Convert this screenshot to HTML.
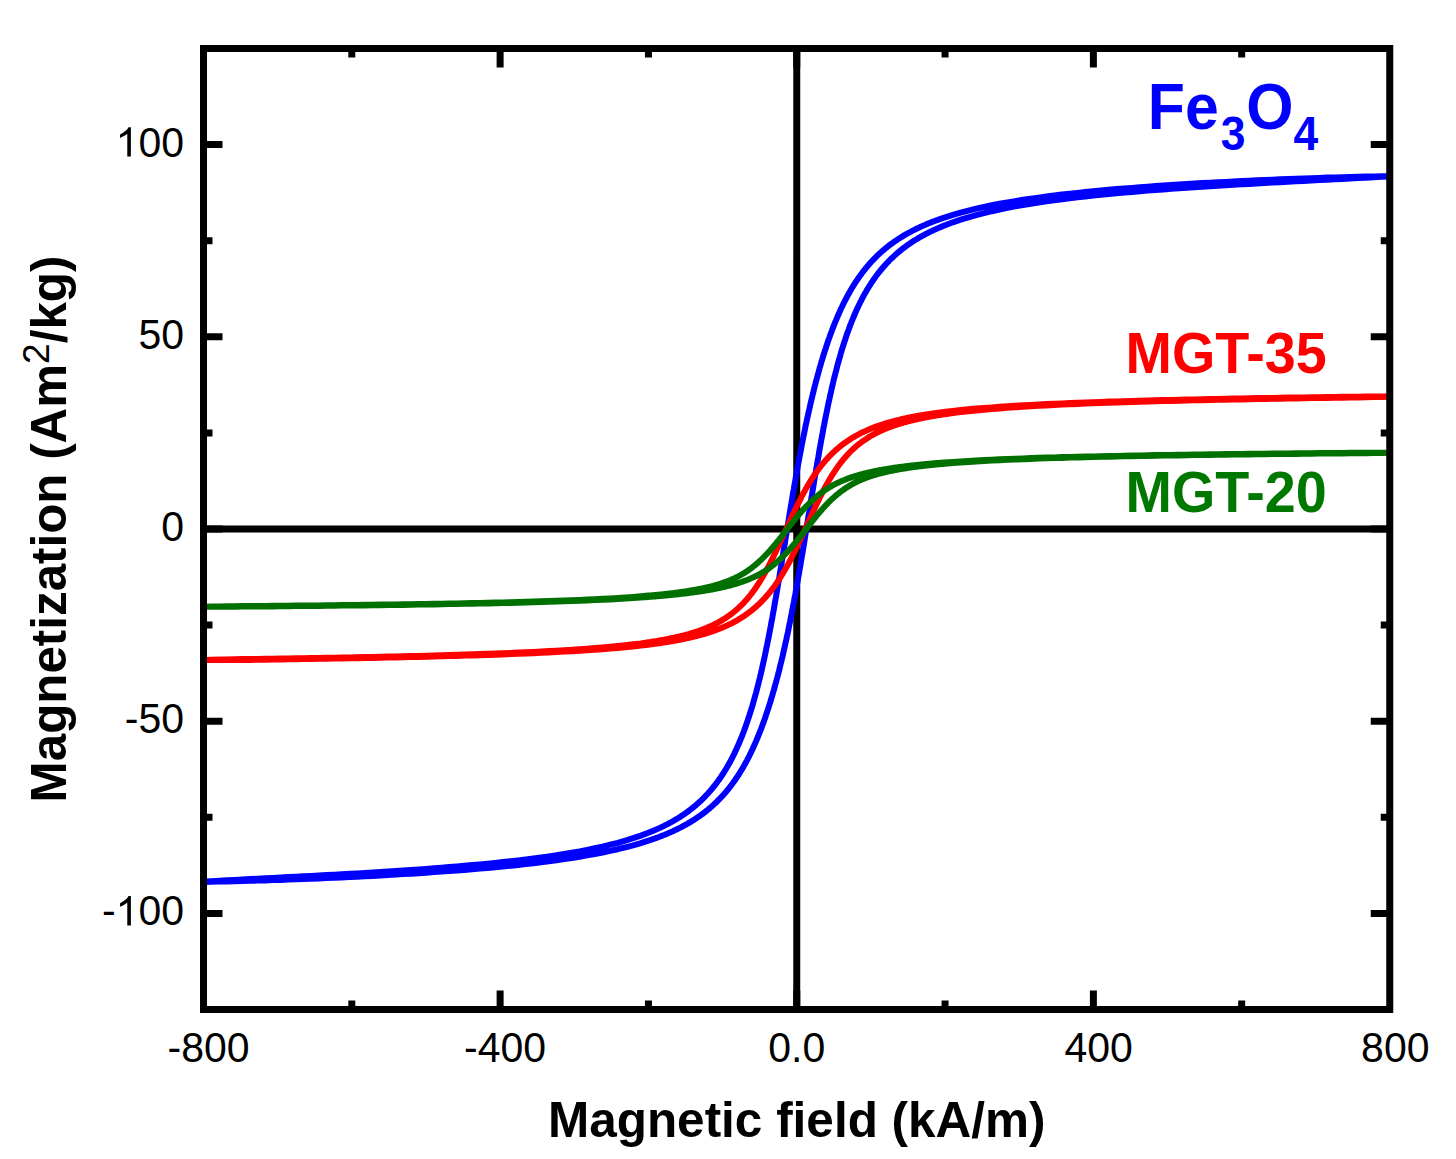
<!DOCTYPE html>
<html><head><meta charset="utf-8"><style>html,body{margin:0;padding:0;background:#fff;width:1456px;height:1159px;overflow:hidden}svg{display:block}</style></head>
<body><svg width="1456" height="1159" viewBox="0 0 1456 1159">
<rect width="1456" height="1159" fill="#fff"/>
<g clip-path="url(#cp)">
<path d="M203.5,529 H1389.75 M796.75,48.5 V1009.5" stroke="#000" stroke-width="7" fill="none"/>
<path d="M188.7,882.1 L196.3,881.9 L204.0,881.6 L211.7,881.2 L219.3,880.7 L227.0,880.3 L234.6,879.9 L242.3,879.5 L250.0,879.1 L257.6,878.7 L265.3,878.3 L273.0,877.9 L280.6,877.5 L288.3,877.1 L295.9,876.7 L303.6,876.3 L311.3,875.9 L318.9,875.5 L326.6,875.1 L334.3,874.7 L341.9,874.2 L349.6,873.8 L357.3,873.4 L364.9,872.9 L372.6,872.4 L380.2,872.0 L387.9,871.5 L395.6,871.0 L403.2,870.5 L410.9,870.0 L418.6,869.4 L426.2,868.9 L433.9,868.3 L441.5,867.7 L449.2,867.1 L456.9,866.5 L464.5,865.8 L472.2,865.1 L479.9,864.4 L487.5,863.7 L495.2,862.9 L502.8,862.1 L510.5,861.3 L518.2,860.4 L525.8,859.5 L533.5,858.5 L541.2,857.5 L548.8,856.4 L556.5,855.3 L564.1,854.0 L571.8,852.7 L579.5,851.4 L587.1,849.9 L594.8,848.3 L602.5,846.6 L610.1,844.7 L617.8,842.8 L625.4,840.6 L633.1,838.2 L640.8,835.6 L648.4,832.7 L649.2,832.4 L649.9,832.1 L650.7,831.8 L651.4,831.5 L652.1,831.2 L652.9,830.9 L653.6,830.6 L654.4,830.3 L655.1,830.0 L655.9,829.7 L656.6,829.3 L657.3,829.0 L658.1,828.7 L658.8,828.3 L659.6,828.0 L660.3,827.7 L661.0,827.3 L661.8,827.0 L662.5,826.6 L663.3,826.2 L664.0,825.9 L664.8,825.5 L665.5,825.1 L666.2,824.8 L667.0,824.4 L667.7,824.0 L668.5,823.6 L669.2,823.2 L669.9,822.8 L670.7,822.4 L671.4,822.0 L672.2,821.6 L672.9,821.2 L673.7,820.7 L674.4,820.3 L675.1,819.9 L675.9,819.4 L676.6,819.0 L677.4,818.6 L678.1,818.1 L678.8,817.6 L679.6,817.2 L680.3,816.7 L681.1,816.2 L681.8,815.7 L682.5,815.2 L683.3,814.7 L684.0,814.2 L684.8,813.7 L685.5,813.2 L686.3,812.7 L687.0,812.1 L687.7,811.6 L688.5,811.1 L689.2,810.5 L690.0,809.9 L690.7,809.4 L691.4,808.8 L692.2,808.2 L692.9,807.6 L693.7,807.0 L694.4,806.4 L695.2,805.8 L695.9,805.1 L696.6,804.5 L697.4,803.8 L698.1,803.2 L698.9,802.5 L699.6,801.8 L700.3,801.2 L701.1,800.5 L701.8,799.7 L702.6,799.0 L703.3,798.3 L704.1,797.5 L704.8,796.8 L705.5,796.0 L706.3,795.2 L707.0,794.5 L707.8,793.7 L708.5,792.8 L709.2,792.0 L710.0,791.2 L710.7,790.3 L711.5,789.4 L712.2,788.5 L713.0,787.6 L713.7,786.7 L714.4,785.8 L715.2,784.8 L715.9,783.9 L716.7,782.9 L717.4,781.9 L718.1,780.9 L718.9,779.9 L719.6,778.8 L720.4,777.7 L721.1,776.7 L721.9,775.5 L722.6,774.4 L723.3,773.3 L724.1,772.1 L724.8,770.9 L725.6,769.7 L726.3,768.5 L727.0,767.2 L727.8,765.9 L728.5,764.6 L729.3,763.3 L730.0,762.0 L730.8,760.6 L731.5,759.2 L732.2,757.7 L733.0,756.3 L733.7,754.8 L734.5,753.3 L735.2,751.7 L735.9,750.2 L736.7,748.5 L737.4,746.9 L738.2,745.2 L738.9,743.5 L739.6,741.8 L740.4,740.0 L741.1,738.2 L741.9,736.4 L742.6,734.5 L743.4,732.5 L744.1,730.6 L744.8,728.6 L745.6,726.5 L746.3,724.4 L747.1,722.3 L747.8,720.1 L748.5,717.9 L749.3,715.7 L750.0,713.3 L750.8,711.0 L751.5,708.6 L752.3,706.1 L753.0,703.6 L753.7,701.0 L754.5,698.4 L755.2,695.7 L756.0,693.0 L756.7,690.2 L757.4,687.4 L758.2,684.5 L758.9,681.5 L759.7,678.5 L760.4,675.4 L761.2,672.3 L761.9,669.1 L762.6,665.8 L763.4,662.5 L764.1,659.1 L764.9,655.6 L765.6,652.1 L766.3,648.5 L767.1,644.9 L767.8,641.2 L768.6,637.4 L769.3,633.6 L770.1,629.7 L770.8,625.8 L771.5,621.8 L772.3,617.8 L773.0,613.7 L773.8,609.5 L774.5,605.3 L775.2,601.0 L776.0,596.7 L776.7,592.4 L777.5,588.0 L778.2,583.6 L779.0,579.2 L779.7,574.7 L780.4,570.2 L781.2,565.7 L781.9,561.2 L782.7,556.6 L783.4,552.0 L784.1,547.5 L784.9,542.9 L785.6,538.3 L786.4,533.8 L787.1,529.2 L787.9,524.6 L788.6,520.1 L789.3,515.6 L790.1,511.1 L790.8,506.6 L791.6,502.2 L792.3,497.8 L793.0,493.4 L793.8,489.1 L794.5,484.8 L795.3,480.5 L796.0,476.3 L796.8,472.1 L797.5,468.0 L798.2,463.9 L799.0,459.9 L799.7,455.9 L800.5,452.0 L801.2,448.1 L801.9,444.3 L802.7,440.5 L803.4,436.8 L804.2,433.1 L804.9,429.5 L805.6,425.9 L806.4,422.4 L807.1,418.9 L807.9,415.5 L808.6,412.2 L809.4,408.9 L810.1,405.6 L810.8,402.4 L811.6,399.3 L812.3,396.2 L813.1,393.1 L813.8,390.1 L814.5,387.2 L815.3,384.3 L816.0,381.4 L816.8,378.6 L817.5,375.9 L818.3,373.1 L819.0,370.5 L819.7,367.8 L820.5,365.3 L821.2,362.7 L822.0,360.2 L822.7,357.8 L823.4,355.4 L824.2,353.0 L824.9,350.7 L825.7,348.4 L826.4,346.1 L827.2,343.9 L827.9,341.7 L828.6,339.6 L829.4,337.5 L830.1,335.4 L830.9,333.4 L831.6,331.4 L832.3,329.4 L833.1,327.5 L833.8,325.6 L834.6,323.7 L835.3,321.9 L836.1,320.1 L836.8,318.3 L837.5,316.6 L838.3,314.9 L839.0,313.2 L839.8,311.5 L840.5,309.9 L841.2,308.3 L842.0,306.8 L842.7,305.2 L843.5,303.7 L844.2,302.2 L845.0,300.7 L845.7,299.3 L846.4,297.9 L847.2,296.5 L847.9,295.1 L848.7,293.8 L849.4,292.5 L850.1,291.2 L850.9,289.9 L851.6,288.6 L852.4,287.4 L853.1,286.2 L853.9,285.0 L854.6,283.8 L855.3,282.7 L856.1,281.5 L856.8,280.4 L857.6,279.3 L858.3,278.2 L859.0,277.2 L859.8,276.1 L860.5,275.1 L861.3,274.1 L862.0,273.1 L862.7,272.1 L863.5,271.1 L864.2,270.2 L865.0,269.3 L865.7,268.3 L866.5,267.4 L867.2,266.5 L867.9,265.7 L868.7,264.8 L869.4,264.0 L870.2,263.1 L870.9,262.3 L871.6,261.5 L872.4,260.7 L873.1,259.9 L873.9,259.1 L874.6,258.4 L875.4,257.6 L876.1,256.9 L876.8,256.2 L877.6,255.4 L878.3,254.7 L879.1,254.0 L879.8,253.3 L880.5,252.7 L881.3,252.0 L882.0,251.3 L882.8,250.7 L883.5,250.1 L884.3,249.4 L885.0,248.8 L885.7,248.2 L886.5,247.6 L887.2,247.0 L888.0,246.4 L888.7,245.8 L889.4,245.3 L890.2,244.7 L890.9,244.1 L891.7,243.6 L892.4,243.1 L893.2,242.5 L893.9,242.0 L894.6,241.5 L895.4,241.0 L896.1,240.5 L896.9,240.0 L897.6,239.5 L898.3,239.0 L899.1,238.5 L899.8,238.0 L900.6,237.6 L901.3,237.1 L902.1,236.6 L902.8,236.2 L903.5,235.7 L904.3,235.3 L905.0,234.9 L905.8,234.4 L906.5,234.0 L907.2,233.6 L908.0,233.2 L908.7,232.8 L909.5,232.4 L910.2,232.0 L911.0,231.6 L911.7,231.2 L912.4,230.8 L913.2,230.4 L913.9,230.0 L914.7,229.7 L915.4,229.3 L916.1,228.9 L916.9,228.6 L917.6,228.2 L918.4,227.9 L919.1,227.5 L919.8,227.2 L920.6,226.8 L921.3,226.5 L922.1,226.2 L922.8,225.8 L923.6,225.5 L924.3,225.2 L925.0,224.9 L925.8,224.5 L926.5,224.2 L927.3,223.9 L928.0,223.6 L928.7,223.3 L929.5,223.0 L930.2,222.7 L931.0,222.4 L931.7,222.1 L932.5,221.8 L933.2,221.5 L933.9,221.3 L934.7,221.0 L935.4,220.7 L936.2,220.4 L936.9,220.2 L937.6,219.9 L938.4,219.6 L939.1,219.4 L939.9,219.1 L940.6,218.8 L941.4,218.6 L942.1,218.3 L942.8,218.1 L943.6,217.8 L944.3,217.6 L945.1,217.3 L952.9,214.9 L960.6,212.6 L968.4,210.6 L976.2,208.7 L984.0,206.9 L991.8,205.3 L999.6,203.8 L1007.4,202.4 L1015.2,201.1 L1023.0,199.8 L1030.8,198.7 L1038.6,197.6 L1046.4,196.5 L1054.2,195.5 L1062.0,194.6 L1069.7,193.7 L1077.5,192.9 L1085.3,192.0 L1093.1,191.3 L1100.9,190.5 L1108.7,189.8 L1116.5,189.1 L1124.3,188.5 L1132.1,187.9 L1139.9,187.3 L1147.7,186.7 L1155.5,186.1 L1163.3,185.6 L1171.1,185.1 L1178.8,184.6 L1186.6,184.1 L1194.4,183.6 L1202.2,183.1 L1210.0,182.7 L1217.8,182.3 L1225.6,181.9 L1233.4,181.5 L1241.2,181.1 L1249.0,180.7 L1256.8,180.3 L1264.6,180.0 L1272.4,179.7 L1280.1,179.3 L1287.9,179.0 L1295.7,178.7 L1303.5,178.4 L1311.3,178.2 L1319.1,177.9 L1326.9,177.6 L1334.7,177.4 L1342.5,177.2 L1350.3,177.0 L1358.1,176.8 L1365.9,176.6 L1373.7,176.4 L1381.5,176.2 L1389.2,176.1 L1397.0,175.8 L1404.8,175.6 M1404.8,175.8 L1397.0,176.1 L1389.2,176.4 L1381.5,176.8 L1373.7,177.3 L1365.9,177.7 L1358.1,178.1 L1350.3,178.5 L1342.5,178.9 L1334.7,179.3 L1326.9,179.7 L1319.1,180.1 L1311.3,180.5 L1303.5,180.9 L1295.7,181.3 L1287.9,181.8 L1280.1,182.2 L1272.4,182.6 L1264.6,183.0 L1256.8,183.4 L1249.0,183.9 L1241.2,184.3 L1233.4,184.8 L1225.6,185.2 L1217.8,185.7 L1210.0,186.2 L1202.2,186.7 L1194.4,187.2 L1186.6,187.7 L1178.8,188.3 L1171.1,188.8 L1163.3,189.4 L1155.5,190.0 L1147.7,190.6 L1139.9,191.2 L1132.1,191.9 L1124.3,192.6 L1116.5,193.3 L1108.7,194.0 L1100.9,194.8 L1093.1,195.6 L1085.3,196.4 L1077.5,197.3 L1069.7,198.2 L1062.0,199.2 L1054.2,200.2 L1046.4,201.3 L1038.6,202.5 L1030.8,203.7 L1023.0,205.0 L1015.2,206.4 L1007.4,207.9 L999.6,209.5 L991.8,211.2 L984.0,213.1 L976.2,215.1 L968.4,217.3 L960.6,219.7 L952.9,222.3 L945.1,225.3 L944.3,225.5 L943.6,225.8 L942.8,226.1 L942.1,226.4 L941.4,226.8 L940.6,227.1 L939.9,227.4 L939.1,227.7 L938.4,228.0 L937.6,228.3 L936.9,228.7 L936.2,229.0 L935.4,229.3 L934.7,229.7 L933.9,230.0 L933.2,230.3 L932.5,230.7 L931.7,231.0 L931.0,231.4 L930.2,231.8 L929.5,232.1 L928.7,232.5 L928.0,232.9 L927.3,233.2 L926.5,233.6 L925.8,234.0 L925.0,234.4 L924.3,234.8 L923.6,235.2 L922.8,235.6 L922.1,236.0 L921.3,236.4 L920.6,236.8 L919.8,237.3 L919.1,237.7 L918.4,238.1 L917.6,238.6 L916.9,239.0 L916.1,239.5 L915.4,239.9 L914.7,240.4 L913.9,240.8 L913.2,241.3 L912.4,241.8 L911.7,242.3 L911.0,242.8 L910.2,243.3 L909.5,243.8 L908.7,244.3 L908.0,244.8 L907.2,245.3 L906.5,245.9 L905.8,246.4 L905.0,247.0 L904.3,247.5 L903.5,248.1 L902.8,248.6 L902.1,249.2 L901.3,249.8 L900.6,250.4 L899.8,251.0 L899.1,251.6 L898.3,252.2 L897.6,252.9 L896.9,253.5 L896.1,254.2 L895.4,254.8 L894.6,255.5 L893.9,256.2 L893.2,256.9 L892.4,257.6 L891.7,258.3 L890.9,259.0 L890.2,259.7 L889.4,260.5 L888.7,261.2 L888.0,262.0 L887.2,262.8 L886.5,263.6 L885.7,264.4 L885.0,265.2 L884.3,266.0 L883.5,266.9 L882.8,267.7 L882.0,268.6 L881.3,269.5 L880.5,270.4 L879.8,271.3 L879.1,272.2 L878.3,273.2 L877.6,274.1 L876.8,275.1 L876.1,276.1 L875.4,277.1 L874.6,278.2 L873.9,279.2 L873.1,280.3 L872.4,281.4 L871.6,282.5 L870.9,283.6 L870.2,284.8 L869.4,285.9 L868.7,287.1 L867.9,288.3 L867.2,289.6 L866.5,290.8 L865.7,292.1 L865.0,293.4 L864.2,294.7 L863.5,296.1 L862.7,297.5 L862.0,298.9 L861.3,300.3 L860.5,301.8 L859.8,303.3 L859.0,304.8 L858.3,306.3 L857.6,307.9 L856.8,309.5 L856.1,311.2 L855.3,312.8 L854.6,314.5 L853.9,316.3 L853.1,318.1 L852.4,319.9 L851.6,321.7 L850.9,323.6 L850.1,325.5 L849.4,327.5 L848.7,329.5 L847.9,331.6 L847.2,333.6 L846.4,335.8 L845.7,338.0 L845.0,340.2 L844.2,342.4 L843.5,344.8 L842.7,347.1 L842.0,349.5 L841.2,352.0 L840.5,354.5 L839.8,357.1 L839.0,359.7 L838.3,362.4 L837.5,365.1 L836.8,367.9 L836.1,370.8 L835.3,373.7 L834.6,376.6 L833.8,379.6 L833.1,382.7 L832.3,385.9 L831.6,389.1 L830.9,392.3 L830.1,395.7 L829.4,399.1 L828.6,402.5 L827.9,406.0 L827.2,409.6 L826.4,413.3 L825.7,417.0 L824.9,420.7 L824.2,424.6 L823.4,428.4 L822.7,432.4 L822.0,436.4 L821.2,440.4 L820.5,444.5 L819.7,448.7 L819.0,452.9 L818.3,457.2 L817.5,461.5 L816.8,465.8 L816.0,470.2 L815.3,474.6 L814.5,479.0 L813.8,483.5 L813.1,488.0 L812.3,492.5 L811.6,497.1 L810.8,501.6 L810.1,506.2 L809.4,510.8 L808.6,515.3 L807.9,519.9 L807.1,524.5 L806.4,529.0 L805.6,533.6 L804.9,538.1 L804.2,542.6 L803.4,547.1 L802.7,551.6 L801.9,556.0 L801.2,560.4 L800.5,564.8 L799.7,569.1 L799.0,573.4 L798.2,577.7 L797.5,581.9 L796.8,586.1 L796.0,590.2 L795.3,594.3 L794.5,598.3 L793.8,602.3 L793.0,606.2 L792.3,610.1 L791.6,613.9 L790.8,617.7 L790.1,621.4 L789.3,625.1 L788.6,628.7 L787.9,632.3 L787.1,635.8 L786.4,639.2 L785.6,642.6 L784.9,646.0 L784.1,649.3 L783.4,652.5 L782.7,655.7 L781.9,658.9 L781.2,662.0 L780.4,665.0 L779.7,668.0 L779.0,671.0 L778.2,673.9 L777.5,676.7 L776.7,679.5 L776.0,682.3 L775.2,685.0 L774.5,687.6 L773.8,690.3 L773.0,692.8 L772.3,695.4 L771.5,697.9 L770.8,700.3 L770.1,702.7 L769.3,705.1 L768.6,707.4 L767.8,709.7 L767.1,712.0 L766.3,714.2 L765.6,716.4 L764.9,718.5 L764.1,720.6 L763.4,722.7 L762.6,724.7 L761.9,726.7 L761.2,728.7 L760.4,730.6 L759.7,732.5 L758.9,734.3 L758.2,736.2 L757.4,738.0 L756.7,739.7 L756.0,741.5 L755.2,743.2 L754.5,744.9 L753.7,746.5 L753.0,748.1 L752.3,749.7 L751.5,751.3 L750.8,752.8 L750.0,754.4 L749.3,755.8 L748.5,757.3 L747.8,758.7 L747.1,760.2 L746.3,761.5 L745.6,762.9 L744.8,764.3 L744.1,765.6 L743.4,766.9 L742.6,768.2 L741.9,769.4 L741.1,770.6 L740.4,771.9 L739.6,773.1 L738.9,774.2 L738.2,775.4 L737.4,776.5 L736.7,777.6 L735.9,778.7 L735.2,779.8 L734.5,780.9 L733.7,781.9 L733.0,782.9 L732.2,784.0 L731.5,784.9 L730.8,785.9 L730.0,786.9 L729.3,787.8 L728.5,788.8 L727.8,789.7 L727.0,790.6 L726.3,791.5 L725.6,792.4 L724.8,793.2 L724.1,794.1 L723.3,794.9 L722.6,795.7 L721.9,796.5 L721.1,797.3 L720.4,798.1 L719.6,798.9 L718.9,799.6 L718.1,800.4 L717.4,801.1 L716.7,801.9 L715.9,802.6 L715.2,803.3 L714.4,804.0 L713.7,804.7 L713.0,805.3 L712.2,806.0 L711.5,806.7 L710.7,807.3 L710.0,808.0 L709.2,808.6 L708.5,809.2 L707.8,809.8 L707.0,810.4 L706.3,811.0 L705.5,811.6 L704.8,812.2 L704.1,812.7 L703.3,813.3 L702.6,813.9 L701.8,814.4 L701.1,814.9 L700.3,815.5 L699.6,816.0 L698.9,816.5 L698.1,817.0 L697.4,817.5 L696.6,818.0 L695.9,818.5 L695.2,819.0 L694.4,819.5 L693.7,820.0 L692.9,820.4 L692.2,820.9 L691.4,821.4 L690.7,821.8 L690.0,822.3 L689.2,822.7 L688.5,823.1 L687.7,823.6 L687.0,824.0 L686.3,824.4 L685.5,824.8 L684.8,825.2 L684.0,825.6 L683.3,826.0 L682.5,826.4 L681.8,826.8 L681.1,827.2 L680.3,827.6 L679.6,828.0 L678.8,828.3 L678.1,828.7 L677.4,829.1 L676.6,829.4 L675.9,829.8 L675.1,830.1 L674.4,830.5 L673.7,830.8 L672.9,831.2 L672.2,831.5 L671.4,831.8 L670.7,832.2 L669.9,832.5 L669.2,832.8 L668.5,833.1 L667.7,833.5 L667.0,833.8 L666.2,834.1 L665.5,834.4 L664.8,834.7 L664.0,835.0 L663.3,835.3 L662.5,835.6 L661.8,835.9 L661.0,836.2 L660.3,836.4 L659.6,836.7 L658.8,837.0 L658.1,837.3 L657.3,837.6 L656.6,837.8 L655.9,838.1 L655.1,838.4 L654.4,838.6 L653.6,838.9 L652.9,839.2 L652.1,839.4 L651.4,839.7 L650.7,839.9 L649.9,840.2 L649.2,840.4 L648.4,840.7 L640.8,843.1 L633.1,845.3 L625.4,847.3 L617.8,849.2 L610.1,850.9 L602.5,852.5 L594.8,854.0 L587.1,855.4 L579.5,856.7 L571.8,858.0 L564.1,859.1 L556.5,860.2 L548.8,861.2 L541.2,862.2 L533.5,863.2 L525.8,864.0 L518.2,864.9 L510.5,865.7 L502.8,866.5 L495.2,867.2 L487.5,867.9 L479.9,868.6 L472.2,869.2 L464.5,869.9 L456.9,870.5 L449.2,871.0 L441.5,871.6 L433.9,872.1 L426.2,872.7 L418.6,873.2 L410.9,873.7 L403.2,874.1 L395.6,874.6 L387.9,875.0 L380.2,875.5 L372.6,875.9 L364.9,876.3 L357.3,876.7 L349.6,877.0 L341.9,877.4 L334.3,877.7 L326.6,878.1 L318.9,878.4 L311.3,878.7 L303.6,879.0 L295.9,879.3 L288.3,879.6 L280.6,879.9 L273.0,880.1 L265.3,880.4 L257.6,880.6 L250.0,880.8 L242.3,881.0 L234.6,881.2 L227.0,881.4 L219.3,881.6 L211.7,881.7 L204.0,881.9 L196.3,882.2 L188.7,882.4" fill="none" stroke="#0000ff" stroke-width="6" stroke-linejoin="round" stroke-linecap="round"/>
<path d="M188.7,660.2 L196.3,660.1 L204.0,660.0 L211.7,659.7 L219.3,659.6 L227.0,659.4 L234.6,659.3 L242.3,659.1 L250.0,659.0 L257.6,658.9 L265.3,658.8 L273.0,658.7 L280.6,658.5 L288.3,658.4 L295.9,658.3 L303.6,658.2 L311.3,658.1 L318.9,657.9 L326.6,657.8 L334.3,657.7 L341.9,657.5 L349.6,657.4 L357.3,657.2 L364.9,657.1 L372.6,656.9 L380.2,656.7 L387.9,656.6 L395.6,656.4 L403.2,656.2 L410.9,656.0 L418.6,655.9 L426.2,655.7 L433.9,655.5 L441.5,655.2 L449.2,655.0 L456.9,654.8 L464.5,654.6 L472.2,654.3 L479.9,654.1 L487.5,653.8 L495.2,653.5 L502.8,653.2 L510.5,652.9 L518.2,652.6 L525.8,652.3 L533.5,651.9 L541.2,651.5 L548.8,651.1 L556.5,650.7 L564.1,650.2 L571.8,649.8 L579.5,649.2 L587.1,648.7 L594.8,648.1 L602.5,647.5 L610.1,646.8 L617.8,646.0 L625.4,645.2 L633.1,644.3 L640.8,643.4 L648.4,642.3 L649.2,642.2 L649.9,642.1 L650.7,642.0 L651.4,641.8 L652.1,641.7 L652.9,641.6 L653.6,641.5 L654.4,641.4 L655.1,641.3 L655.9,641.1 L656.6,641.0 L657.3,640.9 L658.1,640.8 L658.8,640.6 L659.6,640.5 L660.3,640.4 L661.0,640.2 L661.8,640.1 L662.5,640.0 L663.3,639.8 L664.0,639.7 L664.8,639.6 L665.5,639.4 L666.2,639.3 L667.0,639.1 L667.7,639.0 L668.5,638.8 L669.2,638.7 L669.9,638.5 L670.7,638.4 L671.4,638.2 L672.2,638.1 L672.9,637.9 L673.7,637.8 L674.4,637.6 L675.1,637.4 L675.9,637.3 L676.6,637.1 L677.4,636.9 L678.1,636.8 L678.8,636.6 L679.6,636.4 L680.3,636.2 L681.1,636.0 L681.8,635.9 L682.5,635.7 L683.3,635.5 L684.0,635.3 L684.8,635.1 L685.5,634.9 L686.3,634.7 L687.0,634.5 L687.7,634.3 L688.5,634.1 L689.2,633.9 L690.0,633.6 L690.7,633.4 L691.4,633.2 L692.2,633.0 L692.9,632.7 L693.7,632.5 L694.4,632.3 L695.2,632.0 L695.9,631.8 L696.6,631.6 L697.4,631.3 L698.1,631.1 L698.9,630.8 L699.6,630.5 L700.3,630.3 L701.1,630.0 L701.8,629.7 L702.6,629.4 L703.3,629.2 L704.1,628.9 L704.8,628.6 L705.5,628.3 L706.3,628.0 L707.0,627.7 L707.8,627.4 L708.5,627.1 L709.2,626.7 L710.0,626.4 L710.7,626.1 L711.5,625.7 L712.2,625.4 L713.0,625.0 L713.7,624.7 L714.4,624.3 L715.2,623.9 L715.9,623.6 L716.7,623.2 L717.4,622.8 L718.1,622.4 L718.9,622.0 L719.6,621.6 L720.4,621.2 L721.1,620.7 L721.9,620.3 L722.6,619.8 L723.3,619.4 L724.1,618.9 L724.8,618.5 L725.6,618.0 L726.3,617.5 L727.0,617.0 L727.8,616.5 L728.5,616.0 L729.3,615.4 L730.0,614.9 L730.8,614.4 L731.5,613.8 L732.2,613.2 L733.0,612.6 L733.7,612.1 L734.5,611.4 L735.2,610.8 L735.9,610.2 L736.7,609.6 L737.4,608.9 L738.2,608.2 L738.9,607.5 L739.6,606.9 L740.4,606.1 L741.1,605.4 L741.9,604.7 L742.6,603.9 L743.4,603.2 L744.1,602.4 L744.8,601.6 L745.6,600.7 L746.3,599.9 L747.1,599.1 L747.8,598.2 L748.5,597.3 L749.3,596.4 L750.0,595.5 L750.8,594.5 L751.5,593.6 L752.3,592.6 L753.0,591.6 L753.7,590.6 L754.5,589.6 L755.2,588.5 L756.0,587.4 L756.7,586.3 L757.4,585.2 L758.2,584.1 L758.9,582.9 L759.7,581.8 L760.4,580.6 L761.2,579.4 L761.9,578.1 L762.6,576.9 L763.4,575.6 L764.1,574.3 L764.9,573.0 L765.6,571.7 L766.3,570.3 L767.1,569.0 L767.8,567.6 L768.6,566.2 L769.3,564.7 L770.1,563.3 L770.8,561.8 L771.5,560.4 L772.3,558.9 L773.0,557.4 L773.8,555.8 L774.5,554.3 L775.2,552.8 L776.0,551.2 L776.7,549.6 L777.5,548.1 L778.2,546.5 L779.0,544.9 L779.7,543.3 L780.4,541.6 L781.2,540.0 L781.9,538.4 L782.7,536.8 L783.4,535.1 L784.1,533.5 L784.9,531.9 L785.6,530.2 L786.4,528.6 L787.1,527.0 L787.9,525.3 L788.6,523.7 L789.3,522.1 L790.1,520.5 L790.8,518.9 L791.6,517.3 L792.3,515.7 L793.0,514.1 L793.8,512.5 L794.5,511.0 L795.3,509.4 L796.0,507.9 L796.8,506.3 L797.5,504.8 L798.2,503.3 L799.0,501.9 L799.7,500.4 L800.5,499.0 L801.2,497.5 L801.9,496.1 L802.7,494.7 L803.4,493.3 L804.2,492.0 L804.9,490.6 L805.6,489.3 L806.4,488.0 L807.1,486.7 L807.9,485.4 L808.6,484.2 L809.4,482.9 L810.1,481.7 L810.8,480.5 L811.6,479.3 L812.3,478.2 L813.1,477.0 L813.8,475.9 L814.5,474.8 L815.3,473.7 L816.0,472.7 L816.8,471.6 L817.5,470.6 L818.3,469.6 L819.0,468.6 L819.7,467.6 L820.5,466.6 L821.2,465.7 L822.0,464.7 L822.7,463.8 L823.4,462.9 L824.2,462.0 L824.9,461.2 L825.7,460.3 L826.4,459.5 L827.2,458.7 L827.9,457.9 L828.6,457.1 L829.4,456.3 L830.1,455.5 L830.9,454.8 L831.6,454.0 L832.3,453.3 L833.1,452.6 L833.8,451.9 L834.6,451.2 L835.3,450.5 L836.1,449.9 L836.8,449.2 L837.5,448.6 L838.3,447.9 L839.0,447.3 L839.8,446.7 L840.5,446.1 L841.2,445.5 L842.0,445.0 L842.7,444.4 L843.5,443.8 L844.2,443.3 L845.0,442.8 L845.7,442.2 L846.4,441.7 L847.2,441.2 L847.9,440.7 L848.7,440.2 L849.4,439.7 L850.1,439.2 L850.9,438.8 L851.6,438.3 L852.4,437.9 L853.1,437.4 L853.9,437.0 L854.6,436.5 L855.3,436.1 L856.1,435.7 L856.8,435.3 L857.6,434.9 L858.3,434.5 L859.0,434.1 L859.8,433.7 L860.5,433.3 L861.3,433.0 L862.0,432.6 L862.7,432.2 L863.5,431.9 L864.2,431.5 L865.0,431.2 L865.7,430.9 L866.5,430.5 L867.2,430.2 L867.9,429.9 L868.7,429.5 L869.4,429.2 L870.2,428.9 L870.9,428.6 L871.6,428.3 L872.4,428.0 L873.1,427.7 L873.9,427.5 L874.6,427.2 L875.4,426.9 L876.1,426.6 L876.8,426.3 L877.6,426.1 L878.3,425.8 L879.1,425.6 L879.8,425.3 L880.5,425.1 L881.3,424.8 L882.0,424.6 L882.8,424.3 L883.5,424.1 L884.3,423.8 L885.0,423.6 L885.7,423.4 L886.5,423.2 L887.2,422.9 L888.0,422.7 L888.7,422.5 L889.4,422.3 L890.2,422.1 L890.9,421.9 L891.7,421.7 L892.4,421.5 L893.2,421.3 L893.9,421.1 L894.6,420.9 L895.4,420.7 L896.1,420.5 L896.9,420.3 L897.6,420.1 L898.3,420.0 L899.1,419.8 L899.8,419.6 L900.6,419.4 L901.3,419.2 L902.1,419.1 L902.8,418.9 L903.5,418.7 L904.3,418.6 L905.0,418.4 L905.8,418.3 L906.5,418.1 L907.2,417.9 L908.0,417.8 L908.7,417.6 L909.5,417.5 L910.2,417.3 L911.0,417.2 L911.7,417.0 L912.4,416.9 L913.2,416.7 L913.9,416.6 L914.7,416.5 L915.4,416.3 L916.1,416.2 L916.9,416.1 L917.6,415.9 L918.4,415.8 L919.1,415.7 L919.8,415.5 L920.6,415.4 L921.3,415.3 L922.1,415.2 L922.8,415.0 L923.6,414.9 L924.3,414.8 L925.0,414.7 L925.8,414.5 L926.5,414.4 L927.3,414.3 L928.0,414.2 L928.7,414.1 L929.5,414.0 L930.2,413.9 L931.0,413.7 L931.7,413.6 L932.5,413.5 L933.2,413.4 L933.9,413.3 L934.7,413.2 L935.4,413.1 L936.2,413.0 L936.9,412.9 L937.6,412.8 L938.4,412.7 L939.1,412.6 L939.9,412.5 L940.6,412.4 L941.4,412.3 L942.1,412.2 L942.8,412.1 L943.6,412.0 L944.3,411.9 L945.1,411.8 L952.9,410.9 L960.6,410.1 L968.4,409.3 L976.2,408.6 L984.0,408.0 L991.8,407.4 L999.6,406.8 L1007.4,406.3 L1015.2,405.8 L1023.0,405.3 L1030.8,404.9 L1038.6,404.5 L1046.4,404.1 L1054.2,403.7 L1062.0,403.4 L1069.7,403.1 L1077.5,402.8 L1085.3,402.5 L1093.1,402.2 L1100.9,401.9 L1108.7,401.6 L1116.5,401.4 L1124.3,401.2 L1132.1,400.9 L1139.9,400.7 L1147.7,400.5 L1155.5,400.3 L1163.3,400.1 L1171.1,399.9 L1178.8,399.7 L1186.6,399.5 L1194.4,399.4 L1202.2,399.2 L1210.0,399.0 L1217.8,398.9 L1225.6,398.7 L1233.4,398.6 L1241.2,398.4 L1249.0,398.3 L1256.8,398.1 L1264.6,398.0 L1272.4,397.9 L1280.1,397.8 L1287.9,397.6 L1295.7,397.5 L1303.5,397.4 L1311.3,397.3 L1319.1,397.2 L1326.9,397.0 L1334.7,396.9 L1342.5,396.8 L1350.3,396.7 L1358.1,396.7 L1365.9,396.6 L1373.7,396.5 L1381.5,396.5 L1389.2,396.6 L1397.0,396.5 L1404.8,396.4 M1404.8,396.5 L1397.0,396.6 L1389.2,396.7 L1381.5,396.9 L1373.7,397.1 L1365.9,397.3 L1358.1,397.4 L1350.3,397.6 L1342.5,397.7 L1334.7,397.8 L1326.9,397.9 L1319.1,398.0 L1311.3,398.1 L1303.5,398.3 L1295.7,398.4 L1287.9,398.5 L1280.1,398.7 L1272.4,398.8 L1264.6,398.9 L1256.8,399.1 L1249.0,399.2 L1241.2,399.4 L1233.4,399.5 L1225.6,399.7 L1217.8,399.8 L1210.0,400.0 L1202.2,400.2 L1194.4,400.3 L1186.6,400.5 L1178.8,400.7 L1171.1,400.9 L1163.3,401.1 L1155.5,401.3 L1147.7,401.5 L1139.9,401.8 L1132.1,402.0 L1124.3,402.2 L1116.5,402.5 L1108.7,402.8 L1100.9,403.0 L1093.1,403.3 L1085.3,403.6 L1077.5,403.9 L1069.7,404.3 L1062.0,404.6 L1054.2,405.0 L1046.4,405.4 L1038.6,405.8 L1030.8,406.3 L1023.0,406.8 L1015.2,407.3 L1007.4,407.8 L999.6,408.4 L991.8,409.0 L984.0,409.7 L976.2,410.5 L968.4,411.3 L960.6,412.1 L952.9,413.1 L945.1,414.2 L944.3,414.3 L943.6,414.4 L942.8,414.5 L942.1,414.6 L941.4,414.7 L940.6,414.9 L939.9,415.0 L939.1,415.1 L938.4,415.2 L937.6,415.3 L936.9,415.4 L936.2,415.6 L935.4,415.7 L934.7,415.8 L933.9,415.9 L933.2,416.1 L932.5,416.2 L931.7,416.3 L931.0,416.4 L930.2,416.6 L929.5,416.7 L928.7,416.9 L928.0,417.0 L927.3,417.1 L926.5,417.3 L925.8,417.4 L925.0,417.6 L924.3,417.7 L923.6,417.8 L922.8,418.0 L922.1,418.1 L921.3,418.3 L920.6,418.5 L919.8,418.6 L919.1,418.8 L918.4,418.9 L917.6,419.1 L916.9,419.3 L916.1,419.4 L915.4,419.6 L914.7,419.8 L913.9,419.9 L913.2,420.1 L912.4,420.3 L911.7,420.5 L911.0,420.6 L910.2,420.8 L909.5,421.0 L908.7,421.2 L908.0,421.4 L907.2,421.6 L906.5,421.8 L905.8,422.0 L905.0,422.2 L904.3,422.4 L903.5,422.6 L902.8,422.8 L902.1,423.0 L901.3,423.3 L900.6,423.5 L899.8,423.7 L899.1,423.9 L898.3,424.2 L897.6,424.4 L896.9,424.6 L896.1,424.9 L895.4,425.1 L894.6,425.4 L893.9,425.6 L893.2,425.9 L892.4,426.1 L891.7,426.4 L890.9,426.7 L890.2,427.0 L889.4,427.2 L888.7,427.5 L888.0,427.8 L887.2,428.1 L886.5,428.4 L885.7,428.7 L885.0,429.0 L884.3,429.3 L883.5,429.6 L882.8,429.9 L882.0,430.3 L881.3,430.6 L880.5,430.9 L879.8,431.3 L879.1,431.6 L878.3,432.0 L877.6,432.4 L876.8,432.7 L876.1,433.1 L875.4,433.5 L874.6,433.9 L873.9,434.3 L873.1,434.7 L872.4,435.1 L871.6,435.5 L870.9,435.9 L870.2,436.4 L869.4,436.8 L868.7,437.3 L867.9,437.7 L867.2,438.2 L866.5,438.7 L865.7,439.2 L865.0,439.7 L864.2,440.2 L863.5,440.7 L862.7,441.2 L862.0,441.8 L861.3,442.3 L860.5,442.9 L859.8,443.4 L859.0,444.0 L858.3,444.6 L857.6,445.2 L856.8,445.8 L856.1,446.5 L855.3,447.1 L854.6,447.8 L853.9,448.4 L853.1,449.1 L852.4,449.8 L851.6,450.5 L850.9,451.2 L850.1,452.0 L849.4,452.7 L848.7,453.5 L847.9,454.3 L847.2,455.1 L846.4,455.9 L845.7,456.7 L845.0,457.6 L844.2,458.4 L843.5,459.3 L842.7,460.2 L842.0,461.2 L841.2,462.1 L840.5,463.0 L839.8,464.0 L839.0,465.0 L838.3,466.0 L837.5,467.1 L836.8,468.1 L836.1,469.2 L835.3,470.3 L834.6,471.4 L833.8,472.5 L833.1,473.7 L832.3,474.8 L831.6,476.0 L830.9,477.2 L830.1,478.5 L829.4,479.7 L828.6,481.0 L827.9,482.3 L827.2,483.6 L826.4,484.9 L825.7,486.3 L824.9,487.7 L824.2,489.0 L823.4,490.4 L822.7,491.9 L822.0,493.3 L821.2,494.8 L820.5,496.2 L819.7,497.7 L819.0,499.2 L818.3,500.8 L817.5,502.3 L816.8,503.8 L816.0,505.4 L815.3,507.0 L814.5,508.5 L813.8,510.1 L813.1,511.7 L812.3,513.3 L811.6,514.9 L810.8,516.6 L810.1,518.2 L809.4,519.8 L808.6,521.5 L807.9,523.1 L807.1,524.7 L806.4,526.4 L805.6,528.0 L804.9,529.6 L804.2,531.3 L803.4,532.9 L802.7,534.5 L801.9,536.1 L801.2,537.7 L800.5,539.3 L799.7,540.9 L799.0,542.5 L798.2,544.1 L797.5,545.6 L796.8,547.2 L796.0,548.7 L795.3,550.2 L794.5,551.8 L793.8,553.3 L793.0,554.7 L792.3,556.2 L791.6,557.6 L790.8,559.1 L790.1,560.5 L789.3,561.9 L788.6,563.3 L787.9,564.6 L787.1,566.0 L786.4,567.3 L785.6,568.6 L784.9,569.9 L784.1,571.2 L783.4,572.4 L782.7,573.7 L781.9,574.9 L781.2,576.1 L780.4,577.3 L779.7,578.4 L779.0,579.6 L778.2,580.7 L777.5,581.8 L776.7,582.9 L776.0,584.0 L775.2,585.0 L774.5,586.1 L773.8,587.1 L773.0,588.1 L772.3,589.1 L771.5,590.0 L770.8,591.0 L770.1,591.9 L769.3,592.8 L768.6,593.7 L767.8,594.6 L767.1,595.5 L766.3,596.3 L765.6,597.2 L764.9,598.0 L764.1,598.8 L763.4,599.6 L762.6,600.4 L761.9,601.1 L761.2,601.9 L760.4,602.6 L759.7,603.3 L758.9,604.1 L758.2,604.8 L757.4,605.4 L756.7,606.1 L756.0,606.8 L755.2,607.4 L754.5,608.1 L753.7,608.7 L753.0,609.3 L752.3,609.9 L751.5,610.5 L750.8,611.1 L750.0,611.7 L749.3,612.3 L748.5,612.8 L747.8,613.4 L747.1,613.9 L746.3,614.4 L745.6,615.0 L744.8,615.5 L744.1,616.0 L743.4,616.5 L742.6,616.9 L741.9,617.4 L741.1,617.9 L740.4,618.4 L739.6,618.8 L738.9,619.3 L738.2,619.7 L737.4,620.1 L736.7,620.6 L735.9,621.0 L735.2,621.4 L734.5,621.8 L733.7,622.2 L733.0,622.6 L732.2,623.0 L731.5,623.3 L730.8,623.7 L730.0,624.1 L729.3,624.4 L728.5,624.8 L727.8,625.1 L727.0,625.5 L726.3,625.8 L725.6,626.2 L724.8,626.5 L724.1,626.8 L723.3,627.1 L722.6,627.4 L721.9,627.8 L721.1,628.1 L720.4,628.4 L719.6,628.7 L718.9,628.9 L718.1,629.2 L717.4,629.5 L716.7,629.8 L715.9,630.1 L715.2,630.3 L714.4,630.6 L713.7,630.9 L713.0,631.1 L712.2,631.4 L711.5,631.6 L710.7,631.9 L710.0,632.1 L709.2,632.4 L708.5,632.6 L707.8,632.8 L707.0,633.1 L706.3,633.3 L705.5,633.5 L704.8,633.7 L704.1,634.0 L703.3,634.2 L702.6,634.4 L701.8,634.6 L701.1,634.8 L700.3,635.0 L699.6,635.2 L698.9,635.4 L698.1,635.6 L697.4,635.8 L696.6,636.0 L695.9,636.2 L695.2,636.4 L694.4,636.6 L693.7,636.7 L692.9,636.9 L692.2,637.1 L691.4,637.3 L690.7,637.4 L690.0,637.6 L689.2,637.8 L688.5,637.9 L687.7,638.1 L687.0,638.3 L686.3,638.4 L685.5,638.6 L684.8,638.7 L684.0,638.9 L683.3,639.1 L682.5,639.2 L681.8,639.4 L681.1,639.5 L680.3,639.7 L679.6,639.8 L678.8,639.9 L678.1,640.1 L677.4,640.2 L676.6,640.4 L675.9,640.5 L675.1,640.6 L674.4,640.8 L673.7,640.9 L672.9,641.0 L672.2,641.2 L671.4,641.3 L670.7,641.4 L669.9,641.5 L669.2,641.7 L668.5,641.8 L667.7,641.9 L667.0,642.0 L666.2,642.1 L665.5,642.3 L664.8,642.4 L664.0,642.5 L663.3,642.6 L662.5,642.7 L661.8,642.8 L661.0,642.9 L660.3,643.1 L659.6,643.2 L658.8,643.3 L658.1,643.4 L657.3,643.5 L656.6,643.6 L655.9,643.7 L655.1,643.8 L654.4,643.9 L653.6,644.0 L652.9,644.1 L652.1,644.2 L651.4,644.3 L650.7,644.4 L649.9,644.5 L649.2,644.6 L648.4,644.7 L640.8,645.6 L633.1,646.4 L625.4,647.2 L617.8,647.9 L610.1,648.6 L602.5,649.2 L594.8,649.7 L587.1,650.3 L579.5,650.7 L571.8,651.2 L564.1,651.6 L556.5,652.1 L548.8,652.4 L541.2,652.8 L533.5,653.2 L525.8,653.5 L518.2,653.8 L510.5,654.1 L502.8,654.4 L495.2,654.7 L487.5,654.9 L479.9,655.2 L472.2,655.4 L464.5,655.6 L456.9,655.9 L449.2,656.1 L441.5,656.3 L433.9,656.5 L426.2,656.7 L418.6,656.9 L410.9,657.0 L403.2,657.2 L395.6,657.4 L387.9,657.5 L380.2,657.7 L372.6,657.9 L364.9,658.0 L357.3,658.2 L349.6,658.3 L341.9,658.4 L334.3,658.6 L326.6,658.7 L318.9,658.8 L311.3,659.0 L303.6,659.1 L295.9,659.2 L288.3,659.3 L280.6,659.4 L273.0,659.5 L265.3,659.7 L257.6,659.8 L250.0,659.9 L242.3,659.9 L234.6,660.0 L227.0,660.1 L219.3,660.1 L211.7,660.1 L204.0,660.1 L196.3,660.2 L188.7,660.3" fill="none" stroke="#ff0000" stroke-width="6" stroke-linejoin="round" stroke-linecap="round"/>
<path d="M188.7,606.8 L196.3,606.8 L204.0,606.7 L211.7,606.5 L219.3,606.4 L227.0,606.3 L234.6,606.2 L242.3,606.1 L250.0,606.1 L257.6,606.0 L265.3,605.9 L273.0,605.8 L280.6,605.8 L288.3,605.7 L295.9,605.6 L303.6,605.5 L311.3,605.4 L318.9,605.4 L326.6,605.3 L334.3,605.2 L341.9,605.1 L349.6,605.0 L357.3,604.9 L364.9,604.8 L372.6,604.7 L380.2,604.6 L387.9,604.5 L395.6,604.4 L403.2,604.3 L410.9,604.2 L418.6,604.0 L426.2,603.9 L433.9,603.8 L441.5,603.7 L449.2,603.5 L456.9,603.4 L464.5,603.2 L472.2,603.1 L479.9,602.9 L487.5,602.7 L495.2,602.6 L502.8,602.4 L510.5,602.2 L518.2,602.0 L525.8,601.8 L533.5,601.5 L541.2,601.3 L548.8,601.0 L556.5,600.8 L564.1,600.5 L571.8,600.2 L579.5,599.9 L587.1,599.5 L594.8,599.2 L602.5,598.8 L610.1,598.4 L617.8,597.9 L625.4,597.4 L633.1,596.9 L640.8,596.3 L648.4,595.6 L649.2,595.6 L649.9,595.5 L650.7,595.4 L651.4,595.4 L652.1,595.3 L652.9,595.2 L653.6,595.2 L654.4,595.1 L655.1,595.0 L655.9,595.0 L656.6,594.9 L657.3,594.8 L658.1,594.7 L658.8,594.7 L659.6,594.6 L660.3,594.5 L661.0,594.4 L661.8,594.4 L662.5,594.3 L663.3,594.2 L664.0,594.1 L664.8,594.0 L665.5,594.0 L666.2,593.9 L667.0,593.8 L667.7,593.7 L668.5,593.6 L669.2,593.5 L669.9,593.5 L670.7,593.4 L671.4,593.3 L672.2,593.2 L672.9,593.1 L673.7,593.0 L674.4,592.9 L675.1,592.8 L675.9,592.7 L676.6,592.6 L677.4,592.5 L678.1,592.4 L678.8,592.3 L679.6,592.2 L680.3,592.1 L681.1,592.0 L681.8,591.9 L682.5,591.8 L683.3,591.7 L684.0,591.6 L684.8,591.5 L685.5,591.4 L686.3,591.3 L687.0,591.1 L687.7,591.0 L688.5,590.9 L689.2,590.8 L690.0,590.7 L690.7,590.5 L691.4,590.4 L692.2,590.3 L692.9,590.2 L693.7,590.0 L694.4,589.9 L695.2,589.8 L695.9,589.6 L696.6,589.5 L697.4,589.4 L698.1,589.2 L698.9,589.1 L699.6,588.9 L700.3,588.8 L701.1,588.6 L701.8,588.5 L702.6,588.3 L703.3,588.2 L704.1,588.0 L704.8,587.8 L705.5,587.7 L706.3,587.5 L707.0,587.3 L707.8,587.2 L708.5,587.0 L709.2,586.8 L710.0,586.6 L710.7,586.4 L711.5,586.3 L712.2,586.1 L713.0,585.9 L713.7,585.7 L714.4,585.5 L715.2,585.3 L715.9,585.0 L716.7,584.8 L717.4,584.6 L718.1,584.4 L718.9,584.2 L719.6,583.9 L720.4,583.7 L721.1,583.5 L721.9,583.2 L722.6,583.0 L723.3,582.7 L724.1,582.4 L724.8,582.2 L725.6,581.9 L726.3,581.6 L727.0,581.4 L727.8,581.1 L728.5,580.8 L729.3,580.5 L730.0,580.2 L730.8,579.9 L731.5,579.6 L732.2,579.2 L733.0,578.9 L733.7,578.6 L734.5,578.2 L735.2,577.9 L735.9,577.5 L736.7,577.1 L737.4,576.8 L738.2,576.4 L738.9,576.0 L739.6,575.6 L740.4,575.2 L741.1,574.8 L741.9,574.4 L742.6,573.9 L743.4,573.5 L744.1,573.0 L744.8,572.6 L745.6,572.1 L746.3,571.6 L747.1,571.1 L747.8,570.6 L748.5,570.1 L749.3,569.6 L750.0,569.1 L750.8,568.5 L751.5,568.0 L752.3,567.4 L753.0,566.8 L753.7,566.2 L754.5,565.6 L755.2,565.0 L756.0,564.4 L756.7,563.8 L757.4,563.1 L758.2,562.5 L758.9,561.8 L759.7,561.1 L760.4,560.4 L761.2,559.7 L761.9,559.0 L762.6,558.3 L763.4,557.6 L764.1,556.8 L764.9,556.1 L765.6,555.3 L766.3,554.5 L767.1,553.7 L767.8,552.9 L768.6,552.1 L769.3,551.3 L770.1,550.5 L770.8,549.6 L771.5,548.8 L772.3,547.9 L773.0,547.0 L773.8,546.1 L774.5,545.3 L775.2,544.4 L776.0,543.5 L776.7,542.5 L777.5,541.6 L778.2,540.7 L779.0,539.8 L779.7,538.8 L780.4,537.9 L781.2,537.0 L781.9,536.0 L782.7,535.1 L783.4,534.1 L784.1,533.2 L784.9,532.2 L785.6,531.3 L786.4,530.3 L787.1,529.3 L787.9,528.4 L788.6,527.4 L789.3,526.5 L790.1,525.5 L790.8,524.6 L791.6,523.6 L792.3,522.7 L793.0,521.8 L793.8,520.8 L794.5,519.9 L795.3,519.0 L796.0,518.1 L796.8,517.2 L797.5,516.3 L798.2,515.4 L799.0,514.5 L799.7,513.6 L800.5,512.8 L801.2,511.9 L801.9,511.1 L802.7,510.2 L803.4,509.4 L804.2,508.6 L804.9,507.8 L805.6,507.0 L806.4,506.2 L807.1,505.4 L807.9,504.7 L808.6,503.9 L809.4,503.2 L810.1,502.4 L810.8,501.7 L811.6,501.0 L812.3,500.3 L813.1,499.6 L813.8,499.0 L814.5,498.3 L815.3,497.6 L816.0,497.0 L816.8,496.4 L817.5,495.8 L818.3,495.2 L819.0,494.6 L819.7,494.0 L820.5,493.4 L821.2,492.8 L822.0,492.3 L822.7,491.8 L823.4,491.2 L824.2,490.7 L824.9,490.2 L825.7,489.7 L826.4,489.2 L827.2,488.7 L827.9,488.3 L828.6,487.8 L829.4,487.3 L830.1,486.9 L830.9,486.5 L831.6,486.0 L832.3,485.6 L833.1,485.2 L833.8,484.8 L834.6,484.4 L835.3,484.0 L836.1,483.7 L836.8,483.3 L837.5,482.9 L838.3,482.6 L839.0,482.2 L839.8,481.9 L840.5,481.5 L841.2,481.2 L842.0,480.9 L842.7,480.6 L843.5,480.3 L844.2,480.0 L845.0,479.7 L845.7,479.4 L846.4,479.1 L847.2,478.8 L847.9,478.5 L848.7,478.3 L849.4,478.0 L850.1,477.7 L850.9,477.5 L851.6,477.2 L852.4,477.0 L853.1,476.7 L853.9,476.5 L854.6,476.3 L855.3,476.0 L856.1,475.8 L856.8,475.6 L857.6,475.4 L858.3,475.1 L859.0,474.9 L859.8,474.7 L860.5,474.5 L861.3,474.3 L862.0,474.1 L862.7,473.9 L863.5,473.7 L864.2,473.5 L865.0,473.4 L865.7,473.2 L866.5,473.0 L867.2,472.8 L867.9,472.6 L868.7,472.5 L869.4,472.3 L870.2,472.1 L870.9,472.0 L871.6,471.8 L872.4,471.6 L873.1,471.5 L873.9,471.3 L874.6,471.2 L875.4,471.0 L876.1,470.9 L876.8,470.7 L877.6,470.6 L878.3,470.4 L879.1,470.3 L879.8,470.2 L880.5,470.0 L881.3,469.9 L882.0,469.8 L882.8,469.6 L883.5,469.5 L884.3,469.4 L885.0,469.2 L885.7,469.1 L886.5,469.0 L887.2,468.9 L888.0,468.7 L888.7,468.6 L889.4,468.5 L890.2,468.4 L890.9,468.3 L891.7,468.2 L892.4,468.1 L893.2,467.9 L893.9,467.8 L894.6,467.7 L895.4,467.6 L896.1,467.5 L896.9,467.4 L897.6,467.3 L898.3,467.2 L899.1,467.1 L899.8,467.0 L900.6,466.9 L901.3,466.8 L902.1,466.7 L902.8,466.6 L903.5,466.5 L904.3,466.4 L905.0,466.3 L905.8,466.2 L906.5,466.1 L907.2,466.1 L908.0,466.0 L908.7,465.9 L909.5,465.8 L910.2,465.7 L911.0,465.6 L911.7,465.5 L912.4,465.4 L913.2,465.4 L913.9,465.3 L914.7,465.2 L915.4,465.1 L916.1,465.0 L916.9,465.0 L917.6,464.9 L918.4,464.8 L919.1,464.7 L919.8,464.7 L920.6,464.6 L921.3,464.5 L922.1,464.4 L922.8,464.4 L923.6,464.3 L924.3,464.2 L925.0,464.1 L925.8,464.1 L926.5,464.0 L927.3,463.9 L928.0,463.9 L928.7,463.8 L929.5,463.7 L930.2,463.7 L931.0,463.6 L931.7,463.5 L932.5,463.5 L933.2,463.4 L933.9,463.3 L934.7,463.3 L935.4,463.2 L936.2,463.1 L936.9,463.1 L937.6,463.0 L938.4,463.0 L939.1,462.9 L939.9,462.8 L940.6,462.8 L941.4,462.7 L942.1,462.7 L942.8,462.6 L943.6,462.6 L944.3,462.5 L945.1,462.4 L952.9,461.9 L960.6,461.4 L968.4,460.9 L976.2,460.4 L984.0,460.0 L991.8,459.7 L999.6,459.3 L1007.4,459.0 L1015.2,458.7 L1023.0,458.4 L1030.8,458.1 L1038.6,457.8 L1046.4,457.6 L1054.2,457.4 L1062.0,457.1 L1069.7,456.9 L1077.5,456.7 L1085.3,456.5 L1093.1,456.4 L1100.9,456.2 L1108.7,456.0 L1116.5,455.9 L1124.3,455.7 L1132.1,455.6 L1139.9,455.4 L1147.7,455.3 L1155.5,455.1 L1163.3,455.0 L1171.1,454.9 L1178.8,454.8 L1186.6,454.7 L1194.4,454.5 L1202.2,454.4 L1210.0,454.3 L1217.8,454.2 L1225.6,454.1 L1233.4,454.0 L1241.2,453.9 L1249.0,453.8 L1256.8,453.8 L1264.6,453.7 L1272.4,453.6 L1280.1,453.5 L1287.9,453.4 L1295.7,453.3 L1303.5,453.3 L1311.3,453.2 L1319.1,453.1 L1326.9,453.0 L1334.7,453.0 L1342.5,452.9 L1350.3,452.8 L1358.1,452.8 L1365.9,452.7 L1373.7,452.7 L1381.5,452.7 L1389.2,452.7 L1397.0,452.7 L1404.8,452.6 M1404.8,452.7 L1397.0,452.7 L1389.2,452.8 L1381.5,452.9 L1373.7,453.1 L1365.9,453.2 L1358.1,453.2 L1350.3,453.3 L1342.5,453.4 L1334.7,453.5 L1326.9,453.6 L1319.1,453.6 L1311.3,453.7 L1303.5,453.8 L1295.7,453.9 L1287.9,454.0 L1280.1,454.0 L1272.4,454.1 L1264.6,454.2 L1256.8,454.3 L1249.0,454.4 L1241.2,454.5 L1233.4,454.6 L1225.6,454.7 L1217.8,454.8 L1210.0,454.9 L1202.2,455.0 L1194.4,455.1 L1186.6,455.2 L1178.8,455.4 L1171.1,455.5 L1163.3,455.6 L1155.5,455.7 L1147.7,455.9 L1139.9,456.0 L1132.1,456.2 L1124.3,456.3 L1116.5,456.5 L1108.7,456.7 L1100.9,456.8 L1093.1,457.0 L1085.3,457.2 L1077.5,457.4 L1069.7,457.6 L1062.0,457.9 L1054.2,458.1 L1046.4,458.3 L1038.6,458.6 L1030.8,458.9 L1023.0,459.2 L1015.2,459.5 L1007.4,459.8 L999.6,460.2 L991.8,460.6 L984.0,461.0 L976.2,461.5 L968.4,462.0 L960.6,462.5 L952.9,463.1 L945.1,463.7 L944.3,463.8 L943.6,463.9 L942.8,463.9 L942.1,464.0 L941.4,464.1 L940.6,464.1 L939.9,464.2 L939.1,464.3 L938.4,464.3 L937.6,464.4 L936.9,464.5 L936.2,464.6 L935.4,464.6 L934.7,464.7 L933.9,464.8 L933.2,464.9 L932.5,464.9 L931.7,465.0 L931.0,465.1 L930.2,465.2 L929.5,465.2 L928.7,465.3 L928.0,465.4 L927.3,465.5 L926.5,465.6 L925.8,465.6 L925.0,465.7 L924.3,465.8 L923.6,465.9 L922.8,466.0 L922.1,466.1 L921.3,466.2 L920.6,466.3 L919.8,466.3 L919.1,466.4 L918.4,466.5 L917.6,466.6 L916.9,466.7 L916.1,466.8 L915.4,466.9 L914.7,467.0 L913.9,467.1 L913.2,467.2 L912.4,467.3 L911.7,467.4 L911.0,467.5 L910.2,467.6 L909.5,467.7 L908.7,467.8 L908.0,467.9 L907.2,468.1 L906.5,468.2 L905.8,468.3 L905.0,468.4 L904.3,468.5 L903.5,468.6 L902.8,468.8 L902.1,468.9 L901.3,469.0 L900.6,469.1 L899.8,469.3 L899.1,469.4 L898.3,469.5 L897.6,469.6 L896.9,469.8 L896.1,469.9 L895.4,470.1 L894.6,470.2 L893.9,470.3 L893.2,470.5 L892.4,470.6 L891.7,470.8 L890.9,470.9 L890.2,471.1 L889.4,471.2 L888.7,471.4 L888.0,471.6 L887.2,471.7 L886.5,471.9 L885.7,472.1 L885.0,472.2 L884.3,472.4 L883.5,472.6 L882.8,472.8 L882.0,473.0 L881.3,473.1 L880.5,473.3 L879.8,473.5 L879.1,473.7 L878.3,473.9 L877.6,474.1 L876.8,474.3 L876.1,474.6 L875.4,474.8 L874.6,475.0 L873.9,475.2 L873.1,475.4 L872.4,475.7 L871.6,475.9 L870.9,476.2 L870.2,476.4 L869.4,476.7 L868.7,476.9 L867.9,477.2 L867.2,477.4 L866.5,477.7 L865.7,478.0 L865.0,478.3 L864.2,478.6 L863.5,478.9 L862.7,479.2 L862.0,479.5 L861.3,479.8 L860.5,480.1 L859.8,480.4 L859.0,480.8 L858.3,481.1 L857.6,481.5 L856.8,481.8 L856.1,482.2 L855.3,482.6 L854.6,482.9 L853.9,483.3 L853.1,483.7 L852.4,484.1 L851.6,484.5 L850.9,484.9 L850.1,485.4 L849.4,485.8 L848.7,486.3 L847.9,486.7 L847.2,487.2 L846.4,487.7 L845.7,488.1 L845.0,488.6 L844.2,489.1 L843.5,489.7 L842.7,490.2 L842.0,490.7 L841.2,491.3 L840.5,491.8 L839.8,492.4 L839.0,493.0 L838.3,493.6 L837.5,494.2 L836.8,494.8 L836.1,495.4 L835.3,496.1 L834.6,496.7 L833.8,497.4 L833.1,498.1 L832.3,498.7 L831.6,499.4 L830.9,500.1 L830.1,500.9 L829.4,501.6 L828.6,502.3 L827.9,503.1 L827.2,503.9 L826.4,504.6 L825.7,505.4 L824.9,506.2 L824.2,507.0 L823.4,507.8 L822.7,508.7 L822.0,509.5 L821.2,510.4 L820.5,511.2 L819.7,512.1 L819.0,513.0 L818.3,513.8 L817.5,514.7 L816.8,515.6 L816.0,516.5 L815.3,517.5 L814.5,518.4 L813.8,519.3 L813.1,520.2 L812.3,521.2 L811.6,522.1 L810.8,523.1 L810.1,524.0 L809.4,525.0 L808.6,525.9 L807.9,526.9 L807.1,527.8 L806.4,528.8 L805.6,529.7 L804.9,530.7 L804.2,531.6 L803.4,532.6 L802.7,533.5 L801.9,534.5 L801.2,535.4 L800.5,536.4 L799.7,537.3 L799.0,538.2 L798.2,539.2 L797.5,540.1 L796.8,541.0 L796.0,541.9 L795.3,542.8 L794.5,543.7 L793.8,544.6 L793.0,545.5 L792.3,546.3 L791.6,547.2 L790.8,548.1 L790.1,548.9 L789.3,549.7 L788.6,550.5 L787.9,551.4 L787.1,552.2 L786.4,552.9 L785.6,553.7 L784.9,554.5 L784.1,555.3 L783.4,556.0 L782.7,556.7 L781.9,557.5 L781.2,558.2 L780.4,558.9 L779.7,559.6 L779.0,560.2 L778.2,560.9 L777.5,561.6 L776.7,562.2 L776.0,562.8 L775.2,563.5 L774.5,564.1 L773.8,564.7 L773.0,565.3 L772.3,565.8 L771.5,566.4 L770.8,566.9 L770.1,567.5 L769.3,568.0 L768.6,568.6 L767.8,569.1 L767.1,569.6 L766.3,570.1 L765.6,570.5 L764.9,571.0 L764.1,571.5 L763.4,571.9 L762.6,572.4 L761.9,572.8 L761.2,573.3 L760.4,573.7 L759.7,574.1 L758.9,574.5 L758.2,574.9 L757.4,575.3 L756.7,575.7 L756.0,576.0 L755.2,576.4 L754.5,576.8 L753.7,577.1 L753.0,577.4 L752.3,577.8 L751.5,578.1 L750.8,578.4 L750.0,578.8 L749.3,579.1 L748.5,579.4 L747.8,579.7 L747.1,580.0 L746.3,580.3 L745.6,580.5 L744.8,580.8 L744.1,581.1 L743.4,581.4 L742.6,581.6 L741.9,581.9 L741.1,582.1 L740.4,582.4 L739.6,582.6 L738.9,582.9 L738.2,583.1 L737.4,583.4 L736.7,583.6 L735.9,583.8 L735.2,584.0 L734.5,584.2 L733.7,584.5 L733.0,584.7 L732.2,584.9 L731.5,585.1 L730.8,585.3 L730.0,585.5 L729.3,585.7 L728.5,585.9 L727.8,586.0 L727.0,586.2 L726.3,586.4 L725.6,586.6 L724.8,586.8 L724.1,586.9 L723.3,587.1 L722.6,587.3 L721.9,587.4 L721.1,587.6 L720.4,587.8 L719.6,587.9 L718.9,588.1 L718.1,588.2 L717.4,588.4 L716.7,588.5 L715.9,588.7 L715.2,588.8 L714.4,589.0 L713.7,589.1 L713.0,589.3 L712.2,589.4 L711.5,589.5 L710.7,589.7 L710.0,589.8 L709.2,589.9 L708.5,590.1 L707.8,590.2 L707.0,590.3 L706.3,590.4 L705.5,590.6 L704.8,590.7 L704.1,590.8 L703.3,590.9 L702.6,591.0 L701.8,591.1 L701.1,591.3 L700.3,591.4 L699.6,591.5 L698.9,591.6 L698.1,591.7 L697.4,591.8 L696.6,591.9 L695.9,592.0 L695.2,592.1 L694.4,592.2 L693.7,592.3 L692.9,592.4 L692.2,592.5 L691.4,592.6 L690.7,592.7 L690.0,592.8 L689.2,592.9 L688.5,593.0 L687.7,593.1 L687.0,593.2 L686.3,593.3 L685.5,593.4 L684.8,593.5 L684.0,593.6 L683.3,593.7 L682.5,593.7 L681.8,593.8 L681.1,593.9 L680.3,594.0 L679.6,594.1 L678.8,594.2 L678.1,594.2 L677.4,594.3 L676.6,594.4 L675.9,594.5 L675.1,594.6 L674.4,594.6 L673.7,594.7 L672.9,594.8 L672.2,594.9 L671.4,594.9 L670.7,595.0 L669.9,595.1 L669.2,595.2 L668.5,595.2 L667.7,595.3 L667.0,595.4 L666.2,595.4 L665.5,595.5 L664.8,595.6 L664.0,595.7 L663.3,595.7 L662.5,595.8 L661.8,595.9 L661.0,595.9 L660.3,596.0 L659.6,596.0 L658.8,596.1 L658.1,596.2 L657.3,596.2 L656.6,596.3 L655.9,596.4 L655.1,596.4 L654.4,596.5 L653.6,596.5 L652.9,596.6 L652.1,596.7 L651.4,596.7 L650.7,596.8 L649.9,596.8 L649.2,596.9 L648.4,597.0 L640.8,597.5 L633.1,598.0 L625.4,598.5 L617.8,598.9 L610.1,599.4 L602.5,599.7 L594.8,600.1 L587.1,600.4 L579.5,600.7 L571.8,601.0 L564.1,601.3 L556.5,601.6 L548.8,601.8 L541.2,602.0 L533.5,602.3 L525.8,602.5 L518.2,602.7 L510.5,602.9 L502.8,603.0 L495.2,603.2 L487.5,603.4 L479.9,603.5 L472.2,603.7 L464.5,603.8 L456.9,604.0 L449.2,604.1 L441.5,604.3 L433.9,604.4 L426.2,604.5 L418.6,604.6 L410.9,604.7 L403.2,604.9 L395.6,605.0 L387.9,605.1 L380.2,605.2 L372.6,605.3 L364.9,605.4 L357.3,605.5 L349.6,605.6 L341.9,605.6 L334.3,605.7 L326.6,605.8 L318.9,605.9 L311.3,606.0 L303.6,606.1 L295.9,606.1 L288.3,606.2 L280.6,606.3 L273.0,606.4 L265.3,606.4 L257.6,606.5 L250.0,606.6 L242.3,606.6 L234.6,606.7 L227.0,606.7 L219.3,606.8 L211.7,606.8 L204.0,606.8 L196.3,606.8 L188.7,606.9" fill="none" stroke="#007000" stroke-width="6" stroke-linejoin="round" stroke-linecap="round"/>
</g>
<clipPath id="cp"><rect x="203.5" y="48.5" width="1186.25" height="961.0"/></clipPath>
<path d="M351.81,1009.5 V1000.5 M351.81,48.5 V57.5 M500.12,1009.5 V990.5 M500.12,48.5 V67.5 M648.44,1009.5 V1000.5 M648.44,48.5 V57.5 M796.75,1009.5 V990.5 M796.75,48.5 V67.5 M945.06,1009.5 V1000.5 M945.06,48.5 V57.5 M1093.38,1009.5 V990.5 M1093.38,48.5 V67.5 M1241.69,1009.5 V1000.5 M1241.69,48.5 V57.5 M203.5,913.40 H222.5 M1389.75,913.40 H1370.75 M203.5,817.30 H212.5 M1389.75,817.30 H1380.75 M203.5,721.20 H222.5 M1389.75,721.20 H1370.75 M203.5,625.10 H212.5 M1389.75,625.10 H1380.75 M203.5,529.00 H222.5 M1389.75,529.00 H1370.75 M203.5,432.90 H212.5 M1389.75,432.90 H1380.75 M203.5,336.80 H222.5 M1389.75,336.80 H1370.75 M203.5,240.70 H212.5 M1389.75,240.70 H1380.75 M203.5,144.60 H222.5 M1389.75,144.60 H1370.75 " stroke="#000" stroke-width="7" fill="none"/>
<rect x="203.5" y="48.5" width="1186.25" height="961.0" fill="none" stroke="#000" stroke-width="7"/>
<g font-family="&quot;Liberation Sans&quot;, sans-serif" fill="#000">
<text transform="translate(184.00,156.60) scale(1,1.05)" font-size="41" text-anchor="end">00</text>
<path transform="translate(115.61,156.60) scale(0.02002,-0.02002)" d="M763 0H583V1147Q518 1085 412 1023Q306 961 222 930V1104Q373 1175 486 1276Q599 1377 646 1472H763Z"/>
<text transform="translate(184.00,348.80) scale(1,1.05)" font-size="41" text-anchor="end">50</text>
<text transform="translate(184.00,541.00) scale(1,1.05)" font-size="41" text-anchor="end">0</text>
<text transform="translate(184.00,733.20) scale(1,1.05)" font-size="41" text-anchor="end">-50</text>
<text transform="translate(184.00,925.40) scale(1,1.05)" font-size="41" text-anchor="end">00</text>
<path transform="translate(115.61,925.40) scale(0.02002,-0.02002)" d="M763 0H583V1147Q518 1085 412 1023Q306 961 222 930V1104Q373 1175 486 1276Q599 1377 646 1472H763Z"/>
<text transform="translate(115.61,925.40) scale(1,1.05)" font-size="41" text-anchor="end">-</text>
<text transform="translate(208.50,1062.00) scale(1,1.05)" font-size="41" text-anchor="middle">-800</text>
<text transform="translate(505.12,1062.00) scale(1,1.05)" font-size="41" text-anchor="middle">-400</text>
<text transform="translate(796.75,1062.00) scale(1,1.05)" font-size="41" text-anchor="middle">0.0</text>
<text transform="translate(1098.67,1062.00) scale(1,1.05)" font-size="41" text-anchor="middle">400</text>
<text transform="translate(1395.30,1062.00) scale(1,1.05)" font-size="41" text-anchor="middle">800</text>
<text transform="translate(796.75,1137.00) scale(1,1.01)" font-size="49.5" font-weight="bold" text-anchor="middle">Magnetic field (kA/m)</text>
<text transform="translate(65.6,529) rotate(-90) scale(1,1.01)" font-size="49.35" font-weight="bold" text-anchor="middle">Magnetization (Am<tspan font-weight="normal" font-size="37" dy="-16.5" dx="0">2</tspan><tspan dy="16.5" dx="0">/kg)</tspan></text>
<text transform="translate(1147.80,129.30) scale(1,1.065)" font-size="60.8" font-weight="bold" fill="#0000ff">Fe</text>
<text transform="translate(1220.70,150.00) scale(1,1.09)" font-size="44.5" font-weight="bold" fill="#0000ff">3</text>
<text transform="translate(1246.30,129.30) scale(1,1.065)" font-size="60.8" font-weight="bold" fill="#0000ff">O</text>
<text transform="translate(1293.60,150.00) scale(1,1.09)" font-size="44.5" font-weight="bold" fill="#0000ff">4</text>
<text transform="translate(1125.60,372.50) scale(1,1.02)" font-size="55.7" font-weight="bold" fill="#ff0000">MGT-35</text>
<text transform="translate(1125.60,512.40) scale(1,1.02)" font-size="55.7" font-weight="bold" fill="#007800">MGT-20</text>
</g>
</svg></body></html>
